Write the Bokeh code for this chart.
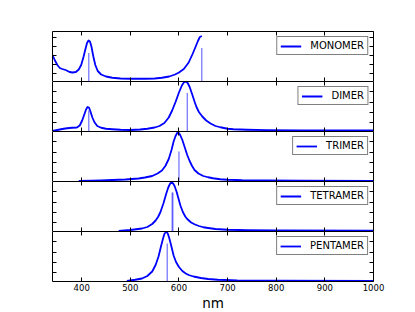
from bokeh.plotting import figure
from bokeh.models import Range1d, LinearAxis, FixedTicker, Legend, LegendItem
from bokeh.layouts import column
from bokeh.embed import file_html
from bokeh.resources import INLINE

# ---------------- data ----------------
panel_names = ["MONOMER", "DIMER", "TRIMER", "TETRAMER", "PENTAMER"]

monomer_nm = [340, 345, 350, 355, 360, 367, 375, 381, 388, 394, 399, 404, 408, 411, 414, 417, 420,
              424, 428, 433, 440, 450, 463, 480, 500, 530, 550, 565, 580, 592, 600, 610, 620, 628,
              634, 639, 643, 647]
monomer_int = [0.53, 0.42, 0.33, 0.27, 0.25, 0.23, 0.19, 0.18, 0.19, 0.24, 0.33, 0.50, 0.66, 0.77,
               0.82, 0.80, 0.70, 0.50, 0.33, 0.21, 0.14, 0.10, 0.075, 0.06, 0.055, 0.055, 0.06,
               0.075, 0.10, 0.14, 0.18, 0.25, 0.38, 0.55, 0.69, 0.81, 0.89, 0.91]

dimer_nm = [340, 350, 360, 370, 380, 390, 396, 401, 405, 409, 412, 415, 418, 422, 426, 432, 440,
            450, 463, 480, 500, 520, 535, 550, 560, 570, 579, 586, 593, 600, 606, 610, 614, 618,
            622, 627, 632, 636, 641, 648, 656, 665, 675, 685, 700, 712, 740, 780, 850, 1000]
dimer_int = [0.01, 0.03, 0.05, 0.065, 0.075, 0.08, 0.12, 0.22, 0.33, 0.44, 0.49, 0.48, 0.40, 0.28,
             0.19, 0.11, 0.075, 0.055, 0.045, 0.035, 0.03, 0.04, 0.055, 0.08, 0.11, 0.17, 0.28,
             0.42, 0.59, 0.78, 0.92, 0.98, 1.00, 0.97, 0.89, 0.75, 0.60, 0.49, 0.39, 0.30, 0.22,
             0.16, 0.11, 0.085, 0.055, 0.045, 0.035, 0.028, 0.023, 0.02]

trimer_nm = [394, 420, 440, 463, 490, 517, 530, 545, 556, 565, 572, 579, 585, 589, 593, 597, 600,
             603, 607, 612, 617, 622, 627, 632, 640, 650, 660, 670, 685, 700, 730, 780, 850, 1000]
trimer_int = [0.01, 0.015, 0.02, 0.03, 0.04, 0.06, 0.08, 0.11, 0.16, 0.22, 0.31, 0.45, 0.64, 0.80,
              0.91, 0.98, 0.97, 0.92, 0.83, 0.68, 0.53, 0.41, 0.31, 0.23, 0.16, 0.11, 0.085, 0.065,
              0.045, 0.035, 0.025, 0.02, 0.016, 0.012]

tetramer_nm = [476, 500, 524, 535, 545, 552, 557, 562, 568, 574, 578, 582, 585, 588, 591, 595, 599,
               603, 608, 613, 617, 625, 633, 641, 650, 660, 675, 700, 740, 800, 1000]
tetramer_int = [0.01, 0.03, 0.06, 0.09, 0.15, 0.22, 0.29, 0.39, 0.56, 0.76, 0.88, 0.96, 0.985, 0.96,
                0.91, 0.80, 0.66, 0.52, 0.39, 0.30, 0.25, 0.18, 0.14, 0.11, 0.085, 0.07, 0.05,
                0.035, 0.025, 0.02, 0.015]

pentamer_nm = [493, 510, 524, 535, 545, 552, 558, 563, 567, 570, 574, 577, 580, 584, 589, 594, 600,
               607, 614, 620, 630, 645, 660, 680, 720, 800, 1000]
pentamer_int = [0.01, 0.035, 0.06, 0.11, 0.20, 0.33, 0.50, 0.70, 0.85, 0.95, 1.00, 0.96, 0.87, 0.72,
                0.52, 0.39, 0.29, 0.21, 0.16, 0.13, 0.10, 0.07, 0.05, 0.035, 0.022, 0.015, 0.01]

# stick (transition) positions and heights
monomer_stick_nm = [414.7, 647]
monomer_stick_h = [0.57, 0.67]
dimer_stick_nm = [414.7, 617]
dimer_stick_h = [0.42, 0.77]
trimer_stick_nm = [600]
trimer_stick_h = [0.60]
tetramer_stick_nm = [586, 587.5]
tetramer_stick_h = [0.78, 0.78]
pentamer_stick_nm = [575.8]
pentamer_stick_h = [0.76]

x_ticks = [400, 500, 600, 700, 800, 900, 1000]
x_tick_labels = ["400", "500", "600", "700", "800", "900", "1000"]
y_ticks_first = [0.17, 0.35, 0.53, 0.71, 0.89]
y_ticks_other = [0.18, 0.39, 0.59, 0.80]
x_label = "nm"

curves = [(monomer_nm, monomer_int, monomer_stick_nm, monomer_stick_h),
          (dimer_nm, dimer_int, dimer_stick_nm, dimer_stick_h),
          (trimer_nm, trimer_int, trimer_stick_nm, trimer_stick_h),
          (tetramer_nm, tetramer_int, tetramer_stick_nm, tetramer_stick_h),
          (pentamer_nm, pentamer_int, pentamer_stick_nm, pentamer_stick_h)]

# ---------------- styling ----------------
FONT = "DejaVu Sans"
LEFT = 52
RIGHT = 40
FRAME_W = 321
TOP = 31
BOTTOM = 27
FRAME_H = 50

x_range = Range1d(340, 1000)


def style_axis(ax, ticks, show_labels=False, show_line=True):
    ax.ticker = FixedTicker(ticks=ticks)
    ax.major_tick_in = 4
    ax.major_tick_out = 0
    ax.minor_tick_line_color = None
    ax.axis_line_color = "black" if show_line else None
    ax.axis_line_width = 1
    ax.major_tick_line_color = "black"
    ax.major_tick_line_width = 1
    if show_labels:
        ax.major_label_text_font = FONT
        ax.major_label_text_font_size = "8.5px"
        ax.major_label_text_color = "black"
        ax.major_label_standoff = 2
        ax.major_label_overrides = {t: l for t, l in zip(x_ticks, x_tick_labels)}
        ax.axis_label = x_label
        ax.axis_label_text_font = FONT
        ax.axis_label_text_font_size = "13.5px"
        ax.axis_label_text_font_style = "normal"
        ax.axis_label_text_color = "black"
        ax.axis_label_standoff = 1
    else:
        ax.major_label_text_font_size = "0px"
        ax.major_label_text_color = None
        ax.major_label_standoff = 0


figs = []
n = len(panel_names)
for i, (name, (xs, ys, sx, sh)) in enumerate(zip(panel_names, curves)):
    first = i == 0
    last = i == n - 1
    p = figure(frame_width=FRAME_W, frame_height=FRAME_H, x_range=x_range, y_range=Range1d(0, 1),
               output_backend="svg", toolbar_location=None,
               x_axis_location="below", y_axis_location="left")
    p.min_border = 0
    p.min_border_left = LEFT
    p.min_border_right = RIGHT
    p.min_border_top = TOP if first else 0
    p.min_border_bottom = BOTTOM if last else 0
    p.outline_line_color = None
    p.background_fill_color = "white"
    p.border_fill_color = "white"
    p.xgrid.visible = False
    p.ygrid.visible = False

    yt = y_ticks_first if first else y_ticks_other
    style_axis(p.xaxis[0], x_ticks, show_labels=last, show_line=last)
    style_axis(p.yaxis[0], yt)
    top_ax = LinearAxis()
    style_axis(top_ax, x_ticks)
    p.add_layout(top_ax, "above")
    right_ax = LinearAxis()
    style_axis(right_ax, yt)
    p.add_layout(right_ax, "right")

    r = p.line(xs, ys, line_color="#0000ff", line_width=1.8, line_join="round")
    p.segment(x0=sx, y0=[0] * len(sx), x1=sx, y1=sh,
              line_color="#3333ff", line_width=1, line_alpha=0.85)

    leg = Legend(items=[LegendItem(label=name, renderers=[r])], location="top_right")
    leg.margin = 5
    leg.padding = 3
    leg.spacing = 0
    leg.glyph_width = 21
    leg.glyph_height = 10
    leg.label_height = 10
    leg.label_standoff = 9
    leg.label_text_font = FONT
    leg.label_text_font_size = "10px"
    leg.label_text_color = "black"
    leg.border_line_color = "black"
    leg.border_line_width = 1
    leg.background_fill_color = "white"
    leg.background_fill_alpha = 1
    p.add_layout(leg)
    figs.append(p)

layout = column(*figs, spacing=0)
open("out.html", "w").write(file_html(layout, INLINE))
